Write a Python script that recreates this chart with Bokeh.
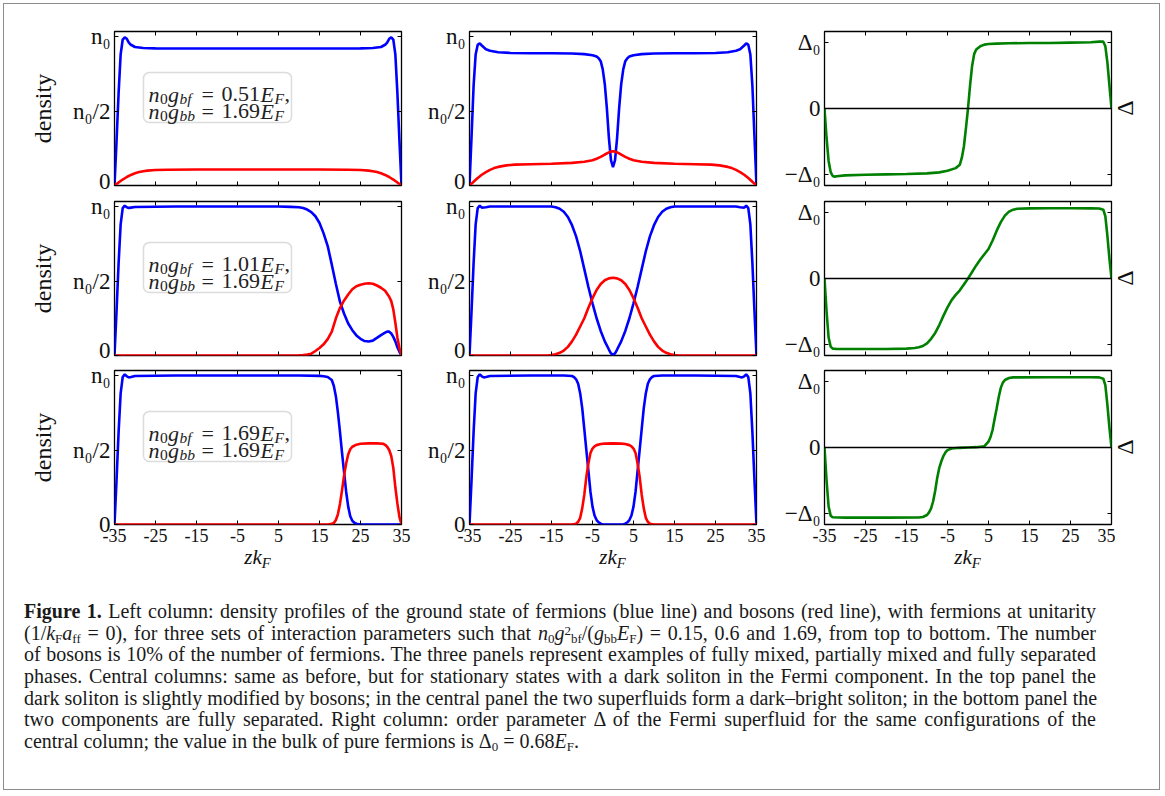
from bokeh.plotting import figure
from bokeh.models import Range1d, LinearAxis, FixedTicker, Span, Label, BoxAnnotation, Div
from bokeh.layouts import row, column
from bokeh.embed import file_html
from bokeh.resources import INLINE

# ---------------- tick definitions ----------------
X_TICKS = [-35, -25, -15, -5, 5, 15, 25, 35]
X_TICK_LABELS = ["-35", "-25", "-15", "-5", "5", "15", "25", "35"]
DENSITY_TICKS = [0, 0.5, 1]
DENSITY_TICK_LABELS = ["0", "n₀/2", "n₀"]
DELTA_TICKS = [-1, 0, 1]
DELTA_TICK_LABELS = ["−Δ₀", "0", "Δ₀"]
BF_VALUES = ["0.51", "1.01", "1.69"]
BB_VALUES = ["1.69", "1.69", "1.69"]

# ---------------- row 1 : fully mixed ----------------
r1_left_fermi_z = [-35, -34.5, -34, -33.5, -33, -32.5, -32, -31.5, -31, -30, -28, -25, -20, -10, 0, 10, 20, 25, 28, 30, 31, 31.5, 32, 32.5, 33, 33.5, 34, 34.5, 35]
r1_left_fermi_n = [0, 0.3, 0.62, 0.88, 0.98, 0.995, 0.985, 0.96, 0.945, 0.93, 0.923, 0.921, 0.92, 0.92, 0.92, 0.92, 0.92, 0.921, 0.923, 0.93, 0.945, 0.96, 0.985, 0.995, 0.98, 0.88, 0.62, 0.3, 0]
r1_left_bose_z = [-35, -34, -33, -32, -31, -30, -29, -28, -27, -25, -22, -15, 0, 15, 22, 25, 27, 28, 29, 30, 31, 32, 33, 34, 35]
r1_left_bose_n = [0, 0.02, 0.04, 0.057, 0.071, 0.082, 0.09, 0.096, 0.1, 0.104, 0.106, 0.107, 0.107, 0.107, 0.106, 0.104, 0.1, 0.096, 0.09, 0.082, 0.071, 0.057, 0.04, 0.02, 0]
r1_mid_fermi_z = [-35, -34.5, -34, -33.5, -33, -32.5, -32, -31, -30, -28, -25, -20, -15, -10, -7, -5, -4, -3.5, -3, -2.5, -2, -1.5, -1, -0.5, 0, 0.5, 1, 1.5, 2, 2.5, 3, 3.5, 4, 5, 7, 10, 15, 20, 25, 28, 30, 31, 32, 32.5, 33, 33.5, 34, 34.5, 35]
r1_mid_fermi_n = [0, 0.33, 0.67, 0.88, 0.945, 0.955, 0.94, 0.915, 0.905, 0.895, 0.89, 0.888, 0.888, 0.886, 0.882, 0.875, 0.866, 0.855, 0.835, 0.78, 0.68, 0.52, 0.32, 0.17, 0.123, 0.17, 0.32, 0.52, 0.68, 0.78, 0.835, 0.855, 0.866, 0.875, 0.882, 0.886, 0.888, 0.888, 0.89, 0.895, 0.905, 0.915, 0.94, 0.955, 0.945, 0.88, 0.67, 0.33, 0]
r1_mid_bose_z = [-35, -34, -33, -32, -31, -30, -29, -28, -26, -24, -20, -15, -10, -7, -5, -4, -3, -2, -1, -0.5, 0, 0.5, 1, 2, 3, 4, 5, 7, 10, 15, 20, 24, 26, 28, 29, 30, 31, 32, 33, 34, 35]
r1_mid_bose_n = [0, 0.025, 0.05, 0.072, 0.09, 0.105, 0.117, 0.125, 0.135, 0.14, 0.143, 0.146, 0.152, 0.16, 0.17, 0.18, 0.192, 0.208, 0.222, 0.228, 0.23, 0.228, 0.222, 0.208, 0.192, 0.18, 0.17, 0.16, 0.152, 0.146, 0.143, 0.14, 0.135, 0.125, 0.117, 0.105, 0.09, 0.072, 0.05, 0.025, 0]
r1_gap_z = [-35, -34.5, -34, -33.5, -33, -32.5, -32, -30, -25, -20, -15, -10, -7, -5, -3, -2, -1.5, -1, -0.5, 0, 0.5, 1, 1.5, 2, 3, 4, 5, 7, 10, 15, 20, 25, 30, 32, 33, 33.5, 34, 34.5, 35]
r1_gap_d = [0, -0.45, -0.8, -0.97, -1.03, -1.04, -1.035, -1.02, -1.01, -1.005, -1.0, -0.99, -0.975, -0.95, -0.91, -0.86, -0.75, -0.58, -0.3, 0.0, 0.35, 0.65, 0.83, 0.9, 0.95, 0.975, 0.985, 0.99, 0.995, 1.0, 1.0, 1.005, 1.01, 1.02, 1.02, 0.95, 0.7, 0.35, 0]

# ---------------- row 2 : partially mixed ----------------
r2_left_fermi_z = [-35, -34.5, -34, -33.5, -33, -32.5, -32, -31.5, -31, -30, -20, -10, 0, 5, 8, 10, 11, 12, 13, 14, 15, 16, 17, 18, 19, 20, 21, 22, 23, 24, 25, 26, 27, 28, 29, 30, 31, 31.5, 32, 32.5, 33, 33.5, 34, 34.5, 35]
r2_left_fermi_n = [0, 0.3, 0.62, 0.88, 0.99, 1.006, 0.995, 0.99, 0.993, 0.997, 1.0, 1.0, 1.0, 1.0, 0.998, 0.995, 0.99, 0.98, 0.963, 0.935, 0.89, 0.82, 0.735, 0.61, 0.48, 0.36, 0.28, 0.215, 0.17, 0.135, 0.112, 0.097, 0.094, 0.1, 0.118, 0.137, 0.153, 0.16, 0.16, 0.148, 0.125, 0.095, 0.055, 0.025, 0]
r2_left_bose_z = [-35, 0, 9, 10, 11, 12, 13, 14, 15, 16, 17, 18, 19, 20, 21, 22, 23, 24, 25, 26, 27, 28, 29, 30, 31, 32, 32.5, 33, 33.5, 34, 34.5, 35]
r2_left_bose_n = [0, 0, 0, 0.001, 0.003, 0.006, 0.012, 0.03, 0.05, 0.075, 0.11, 0.16, 0.25, 0.32, 0.37, 0.41, 0.445, 0.465, 0.475, 0.482, 0.485, 0.482, 0.47, 0.455, 0.435, 0.395, 0.365, 0.31, 0.22, 0.12, 0.05, 0]
r2_mid_fermi_z = [-35, -34.5, -34, -33.5, -33, -32.5, -32, -31, -30, -20, -15, -14, -13, -12, -11, -10, -9, -8, -7, -6, -5, -4, -3, -2, -1, -0.5, 0, 0.5, 1, 2, 3, 4, 5, 6, 7, 8, 9, 10, 11, 12, 13, 14, 15, 20, 30, 31, 32, 32.5, 33, 33.5, 34, 34.5, 35]
r2_mid_fermi_n = [0, 0.3, 0.62, 0.88, 0.99, 1.006, 0.993, 0.995, 1.0, 1.0, 1.0, 0.995, 0.985, 0.965, 0.93, 0.875, 0.8, 0.7, 0.58, 0.46, 0.35, 0.25, 0.165, 0.095, 0.04, 0.015, 0.003, 0.015, 0.04, 0.095, 0.165, 0.25, 0.35, 0.46, 0.58, 0.7, 0.8, 0.875, 0.93, 0.965, 0.985, 0.995, 1.0, 1.0, 1.0, 0.995, 0.993, 1.006, 0.99, 0.88, 0.62, 0.3, 0]
r2_mid_bose_z = [-35, -16, -15, -14, -13, -12, -11, -10, -9, -8, -7, -6, -5, -4, -3, -2, -1, 0, 1, 2, 3, 4, 5, 6, 7, 8, 9, 10, 11, 12, 13, 14, 15, 16, 35]
r2_mid_bose_n = [0, 0, 0.003, 0.008, 0.018, 0.033, 0.058, 0.095, 0.14, 0.195, 0.25, 0.32, 0.385, 0.44, 0.48, 0.505, 0.518, 0.522, 0.518, 0.505, 0.48, 0.44, 0.385, 0.32, 0.25, 0.195, 0.14, 0.095, 0.058, 0.033, 0.018, 0.008, 0.003, 0, 0]
r2_gap_z = [-35, -34.5, -34, -33.5, -33, -32, -30, -20, -15, -13, -12, -11, -10, -9, -8, -7, -6, -5, -4, -3, -2, -1, 0, 1, 2, 3, 4, 5, 6, 7, 8, 9, 10, 11, 12, 15, 20, 25, 30, 32, 33, 33.5, 34, 34.5, 35]
r2_gap_d = [0, -0.5, -0.9, -1.04, -1.07, -1.075, -1.075, -1.075, -1.07, -1.06, -1.05, -1.03, -0.99, -0.92, -0.83, -0.71, -0.57, -0.44, -0.33, -0.25, -0.18, -0.09, 0.0, 0.1, 0.2, 0.29, 0.37, 0.45, 0.58, 0.73, 0.86, 0.96, 1.02, 1.05, 1.065, 1.07, 1.072, 1.072, 1.07, 1.068, 1.05, 0.95, 0.65, 0.3, 0]

# ---------------- row 3 : fully separated ----------------
r3_left_fermi_z = [-35, -34.5, -34, -33.5, -33, -32.5, -32, -31.5, -31, -30, -20, 0, 10, 15, 16, 17, 18, 18.5, 19, 19.5, 20, 20.5, 21, 21.5, 22, 22.5, 23, 23.5, 24, 25, 35]
r3_left_fermi_n = [0, 0.3, 0.62, 0.88, 0.99, 1.008, 0.995, 0.988, 0.99, 0.997, 1.0, 1.0, 1.0, 0.998, 0.995, 0.99, 0.97, 0.93, 0.86, 0.75, 0.62, 0.48, 0.35, 0.22, 0.12, 0.055, 0.025, 0.012, 0.005, 0, 0]
r3_left_bose_z = [-35, 17, 18, 18.5, 19, 19.5, 20, 20.5, 21, 21.5, 22, 22.5, 23, 24, 25, 27, 29, 30.5, 31, 31.5, 32, 32.5, 33, 33.5, 34, 34.5, 35]
r3_left_bose_n = [0, 0, 0.004, 0.01, 0.03, 0.07, 0.14, 0.23, 0.33, 0.41, 0.47, 0.505, 0.522, 0.536, 0.542, 0.545, 0.545, 0.542, 0.535, 0.522, 0.5, 0.46, 0.38, 0.25, 0.14, 0.05, 0]
r3_mid_fermi_z = [-35, -34.5, -34, -33.5, -33, -32.5, -32, -31.5, -31, -30, -20, -12, -10, -9.5, -9, -8.5, -8, -7.5, -7, -6.5, -6, -5.5, -5, -4.5, -4, -3.5, -3, -2.5, 2.5, 3, 3.5, 4, 4.5, 5, 5.5, 6, 6.5, 7, 7.5, 8, 8.5, 9, 9.5, 10, 12, 20, 30, 31, 31.5, 32, 32.5, 33, 33.5, 34, 34.5, 35]
r3_mid_fermi_n = [0, 0.3, 0.62, 0.88, 0.99, 1.008, 0.995, 0.988, 0.99, 0.997, 1.0, 1.0, 0.997, 0.99, 0.975, 0.945, 0.88, 0.78, 0.64, 0.5, 0.36, 0.22, 0.12, 0.06, 0.03, 0.015, 0.006, 0, 0, 0.006, 0.015, 0.03, 0.06, 0.12, 0.22, 0.36, 0.5, 0.64, 0.78, 0.88, 0.945, 0.975, 0.99, 0.997, 1.0, 1.0, 0.997, 0.99, 0.988, 0.995, 1.008, 0.99, 0.88, 0.62, 0.3, 0]
r3_mid_bose_z = [-35, -10, -9, -8.5, -8, -7.5, -7, -6.5, -6, -5.5, -5, -4.5, -4, -3, -2, 0, 2, 3, 4, 4.5, 5, 5.5, 6, 6.5, 7, 7.5, 8, 8.5, 9, 10, 35]
r3_mid_bose_n = [0, 0, 0.005, 0.018, 0.045, 0.11, 0.2, 0.32, 0.41, 0.48, 0.51, 0.525, 0.533, 0.54, 0.543, 0.545, 0.543, 0.54, 0.533, 0.525, 0.51, 0.48, 0.41, 0.32, 0.2, 0.11, 0.045, 0.018, 0.005, 0, 0]
r3_gap_z = [-35, -34.5, -34, -33.5, -33, -30, -20, -12, -11, -10, -9.5, -9, -8.5, -8, -7.5, -7, -6.5, -6, -5.5, -5, -4, -2, 0, 2, 4, 5, 5.5, 6, 6.5, 7, 7.5, 8, 8.5, 9, 10, 11, 20, 30, 32, 33, 33.5, 34, 34.5, 35]
r3_gap_d = [0, -0.5, -0.9, -1.04, -1.065, -1.07, -1.07, -1.068, -1.06, -1.03, -0.99, -0.93, -0.82, -0.66, -0.46, -0.31, -0.21, -0.13, -0.075, -0.04, -0.015, -0.005, 0, 0.005, 0.02, 0.09, 0.16, 0.27, 0.44, 0.6, 0.77, 0.91, 0.99, 1.03, 1.06, 1.07, 1.072, 1.072, 1.07, 1.05, 0.95, 0.65, 0.3, 0]

# ---------------- layout constants ----------------
SERIF = "Liberation Serif"
COL_W = [411, 355, 345]
COL_BL = [110, 54, 54]
COL_BR = [14, 14, 4]
ROW_H = [189, 169, 187]
ROW_BT = [27, 8, 8]
ROW_BB = [8, 7, 25]
DELTA_DIV_W = 44
DELTA_MARGIN_TOP = [89, 70, 70]
LABEL_ROW_H = 26
LABEL_CENTERS = [253.5, 197.5, 197.5]
CAPTION_H = 214
DENS_TOP = 1.034
GAP_LIM = 1.175
BLUE, RED, GREEN = "#0000ff", "#ff0000", "#008000"


def tick_axis(ticks, labels=None, size="18px"):
    ax = LinearAxis(ticker=FixedTicker(ticks=ticks, minor_ticks=[]))
    ax.axis_line_color = None
    ax.major_tick_in = 4
    ax.major_tick_out = 0
    ax.major_tick_line_color = "black"
    ax.major_tick_line_width = 1
    ax.minor_tick_line_color = None
    if labels is None:
        ax.major_label_text_font_size = "1px"
        ax.major_label_text_color = None
        ax.major_label_standoff = 0
    else:
        ax.major_label_overrides = {t: l for t, l in zip(ticks, labels)}
        ax.major_label_text_font = SERIF
        ax.major_label_text_font_size = size
        ax.major_label_text_color = "#111111"
        ax.major_label_standoff = 4
    return ax


def panel(col, r, kind):
    yr = Range1d(0, DENS_TOP) if kind == "density" else Range1d(-GAP_LIM, GAP_LIM)
    p = figure(width=COL_W[col], height=ROW_H[r], x_range=Range1d(-35, 35), y_range=yr,
               x_axis_location=None, y_axis_location=None, toolbar_location=None,
               output_backend="svg", min_border_left=COL_BL[col], min_border_right=COL_BR[col],
               min_border_top=ROW_BT[r], min_border_bottom=ROW_BB[r], margin=0)
    p.outline_line_color = "black"
    p.outline_line_width = 1.3
    p.xgrid.visible = False
    p.ygrid.visible = False
    p.background_fill_color = "white"
    p.border_fill_color = "white"
    p.add_layout(tick_axis(X_TICKS, X_TICK_LABELS if r == 2 else None, "18px"), "below")
    p.add_layout(tick_axis(X_TICKS), "above")
    if kind == "density":
        left = tick_axis(DENSITY_TICKS, DENSITY_TICK_LABELS, "23px")
        p.add_layout(tick_axis(DENSITY_TICKS), "right")
    else:
        left = tick_axis(DELTA_TICKS, DELTA_TICK_LABELS, "23px")
        p.add_layout(tick_axis(DELTA_TICKS), "right")
    if col == 0:
        left.axis_label = "density"
        left.axis_label_text_font = SERIF
        left.axis_label_text_font_style = "normal"
        left.axis_label_text_font_size = "24px"
        left.axis_label_text_color = "#111111"
        left.axis_label_standoff = 14
    p.add_layout(left, "left")
    return p


def param_box(p, bf, bb):
    p.add_layout(BoxAnnotation(left=-27.93, right=8.17, bottom=0.4235, top=0.7595,
                               fill_color="white", fill_alpha=1.0, line_color="#8c8c8c",
                               line_width=1.5, border_radius=6))
    lines = [
        (0.6116, [("n", 0, "italic", False), ("0", 11.5, "normal", True), ("g", 19.5, "italic", False),
                  ("bf", 31, "italic", True), ("=", 53, "normal", False), (bf, 73, "normal", False),
                  ("E", 112, "italic", False), ("F", 126, "italic", True), (",", 136, "normal", False)]),
        (0.4994, [("n", 0, "italic", False), ("0", 11.5, "normal", True), ("g", 19.5, "italic", False),
                  ("bb", 31, "italic", True), ("=", 53, "normal", False), (bb, 73, "normal", False),
                  ("E", 112, "italic", False), ("F", 126, "italic", True)]),
    ]
    for y, pieces in lines:
        for txt, off, style, sub in pieces:
            p.add_layout(Label(x=-26.7, y=y, x_offset=off, y_offset=-4.5 if sub else 0, text=txt,
                               text_align="left", text_baseline="alphabetic", text_font=SERIF,
                               text_font_style=style, text_font_size="15.5px" if sub else "22px",
                               text_color="#222222"))


ROWS = [
    (r1_left_fermi_z, r1_left_fermi_n, r1_left_bose_z, r1_left_bose_n,
     r1_mid_fermi_z, r1_mid_fermi_n, r1_mid_bose_z, r1_mid_bose_n, r1_gap_z, r1_gap_d),
    (r2_left_fermi_z, r2_left_fermi_n, r2_left_bose_z, r2_left_bose_n,
     r2_mid_fermi_z, r2_mid_fermi_n, r2_mid_bose_z, r2_mid_bose_n, r2_gap_z, r2_gap_d),
    (r3_left_fermi_z, r3_left_fermi_n, r3_left_bose_z, r3_left_bose_n,
     r3_mid_fermi_z, r3_mid_fermi_n, r3_mid_bose_z, r3_mid_bose_n, r3_gap_z, r3_gap_d),
]

children = []
for r, (lfz, lfn, lbz, lbn, mfz, mfn, mbz, mbn, gz, gd) in enumerate(ROWS):
    pl = panel(0, r, "density")
    pl.line(lfz, lfn, line_color=BLUE, line_width=2.6)
    pl.line(lbz, lbn, line_color=RED, line_width=2.6)
    param_box(pl, BF_VALUES[r], BB_VALUES[r])
    pm = panel(1, r, "density")
    pm.line(mfz, mfn, line_color=BLUE, line_width=2.6)
    pm.line(mbz, mbn, line_color=RED, line_width=2.6)
    pr = panel(2, r, "gap")
    pr.add_layout(Span(location=0, dimension="width", line_color="black", line_width=1.5))
    pr.line(gz, gd, line_color=GREEN, line_width=2.6)
    delta_div = Div(width=DELTA_DIV_W, height=ROW_H[r], margin=0, text=(
        '<div style="margin-top:%dpx;margin-left:0px;width:20px;height:30px;line-height:30px;'
        'text-align:center;font-family:\'Liberation Serif\';font-size:24px;color:#111;'
        'transform:rotate(-90deg);">Δ</div>' % DELTA_MARGIN_TOP[r]))
    children.append(row(pl, pm, pr, delta_div, margin=0))

label_divs = []
for w, c in zip(COL_W, LABEL_CENTERS):
    label_divs.append(Div(width=w, height=LABEL_ROW_H, margin=0, text=(
        '<div style="margin-left:%gpx;width:100px;text-align:center;margin-top:-3.5px;'
        'font-family:\'Liberation Serif\';font-size:21px;line-height:22px;color:#111;white-space:nowrap">'
        '<i>zk</i><sub style="font-size:70%%;line-height:0;vertical-align:-0.3em"><i>F</i></sub></div>' % (c - 50))))
label_divs.append(Div(width=DELTA_DIV_W, height=LABEL_ROW_H, margin=0, text=""))
children.append(row(*label_divs, margin=0))

LINE_STYLE = ("height:21.7px;line-height:21.7px;white-space:nowrap;width:1072px;"
              "text-align:justify;text-align-last:justify;")
LAST_STYLE = "height:21.7px;line-height:21.7px;white-space:nowrap;width:1072px;text-align:left;"
SUB = '<sub style="font-size:65%;vertical-align:-0.2em;line-height:0">'
SUP = '<sup style="font-size:65%;vertical-align:0.4em;line-height:0">'
CAPTION_LINES = [
    '<b>Figure 1.</b> Left column: density profiles of the ground state of fermions (blue line) and bosons (red line), with fermions at unitarity',
    '(1/<i>k</i>' + SUB + 'F</sub><i>a</i>' + SUB + 'ff</sub> = 0), for three sets of interaction parameters such that <i>n</i>' + SUB + '0</sub><i>g</i>'
    + SUP + '2</sup>' + SUB + 'bf</sub>/(<i>g</i>' + SUB + 'bb</sub><i>E</i>' + SUB + 'F</sub>) = 0.15, 0.6 and 1.69, from top to bottom. The number',
    'of bosons is 10% of the number of fermions. The three panels represent examples of fully mixed, partially mixed and fully separated',
    'phases. Central columns: same as before, but for stationary states with a dark soliton in the Fermi component. In the top panel the',
    'dark soliton is slightly modified by bosons; in the central panel the two superfluids form a dark–bright soliton; in the bottom panel the',
    'two components are fully separated. Right column: order parameter Δ of the Fermi superfluid for the same configurations of the',
    'central column; the value in the bulk of pure fermions is Δ' + SUB + '0</sub> = 0.68<i>E</i>' + SUB + 'F</sub>.',
]
html = ('<div style="padding-left:20px;padding-top:26px;font-family:\'Liberation Serif\';'
        'font-size:20px;color:#1a1a1a;">')
for i, ln in enumerate(CAPTION_LINES):
    st = LAST_STYLE if i == len(CAPTION_LINES) - 1 else LINE_STYLE
    html += '<div style="' + st + '">' + ln + '</div>'
html += '</div>'
children.append(Div(text=html, width=sum(COL_W) + DELTA_DIV_W, height=CAPTION_H, margin=0))

layout = column(*children, margin=(3, 0, 0, 3),
                styles={"border": "1px solid #8c8c8c", "background-color": "white"})

open("out.html", "w").write(file_html(layout, INLINE))
